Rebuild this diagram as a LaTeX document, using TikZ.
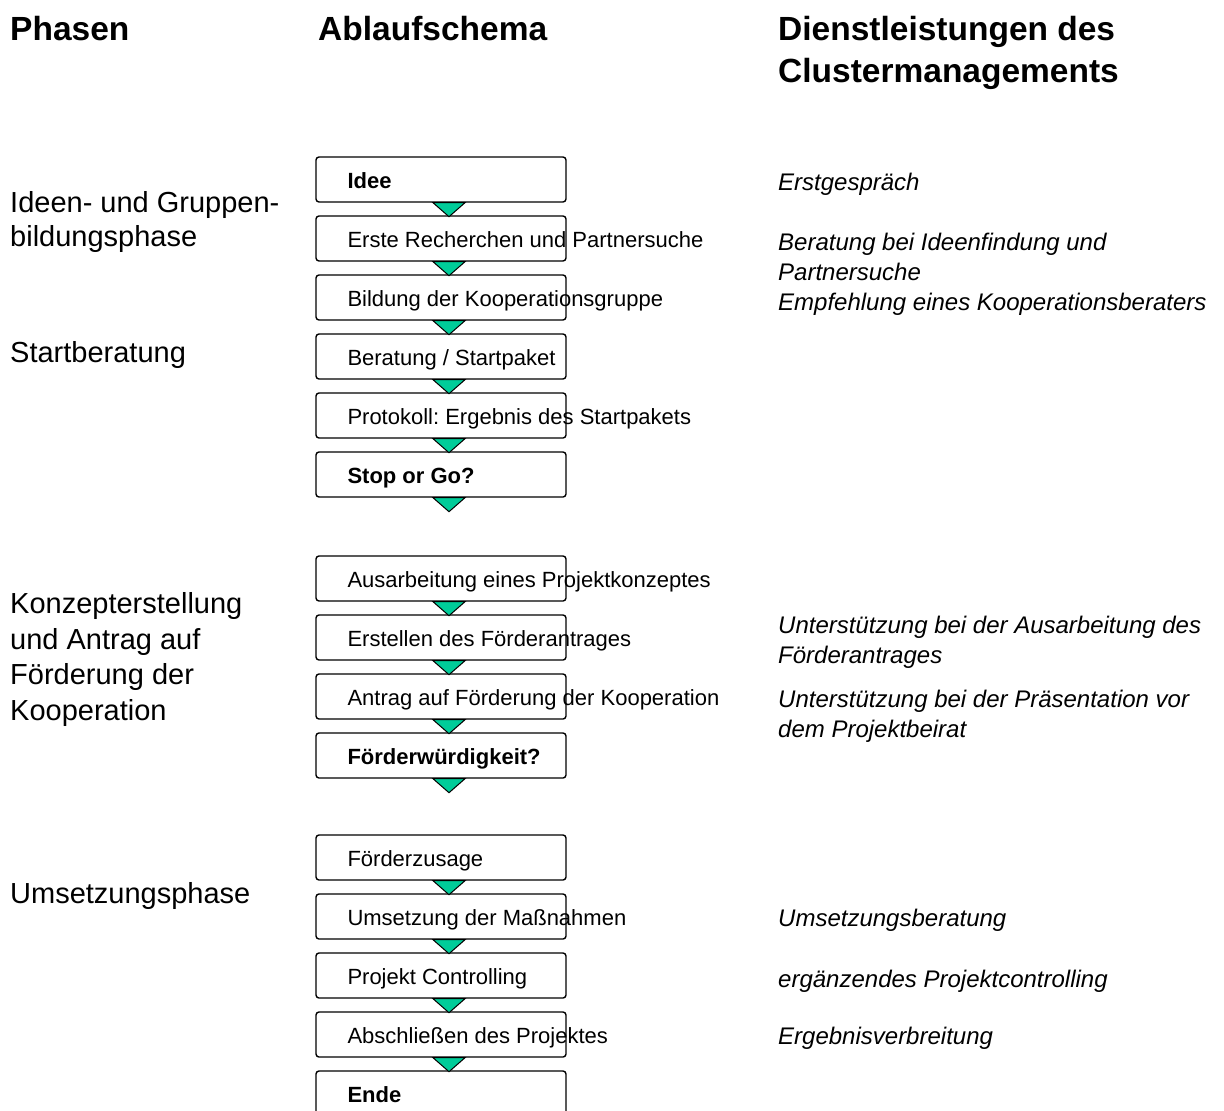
\documentclass[tikz,border=0pt]{standalone}
\usepackage{fontspec}
\setmainfont{Liberation Sans}
\definecolor{trigreen}{RGB}{0,204,153}
\begin{document}
\frenchspacing
\begin{tikzpicture}[x=1pt,y=-1pt,
  box/.style={draw, line width=1.4pt, rounded corners=3pt, minimum width=250pt, minimum height=45pt, inner sep=0pt},
  btext/.style={anchor=base west, inner sep=0pt, font=\fontsize{22}{26}\selectfont},
  head/.style={anchor=base west, inner sep=0pt, font=\fontsize{33.5}{40}\selectfont\bfseries},
  phase/.style={anchor=base west, inner sep=0pt, font=\fontsize{29}{34}\selectfont},
  serv/.style={anchor=base west, inner sep=0pt, font=\fontsize{24}{30}\selectfont\itshape},
  tri/.style={draw, fill=trigreen, line width=1pt, line join=miter}]
\useasboundingbox (0,0) rectangle (1224,1111);

% headings
\node[head] (h1) at (10,40) {Phasen};
\node[head] (h2) at (318,40) {Ablaufschema};
\node[head] (h3) at (778,40) {Dienstleistungen des};
\node[head] (h4) at (778,82) {Clustermanagements};

% phases
\node[phase] (p1a) at (10,212) {Ideen- und Gruppen-};
\node[phase] (p1b) at (10,246) {bildungsphase};
\node[phase] (p2) at (10,362) {Startberatung};
\node[phase] (p3a) at (10,613) {Konzepterstellung};
\node[phase] (p3b) at (10,649) {und Antrag auf};
\node[phase] (p3c) at (10,684) {Förderung der};
\node[phase] (p3d) at (10,720) {Kooperation};
\node[phase] (p4) at (10,903) {Umsetzungsphase};

% boxes
\foreach \n/\y in {b1/179.5, b2/238.5, b3/297.5, b4/356.5, b5/415.5, b6/474.5,
                   b7/578.5, b8/637.5, b9/696.5, b10/755.5,
                   b11/857.5, b12/916.5, b13/975.5, b14/1034.5, b15/1093.5}
  \node[box] (\n) at (441,\y) {};

\foreach \n/\t in {b1/{\textbf{Idee}}, b2/{Erste Recherchen und Partnersuche}, b3/{Bildung der Kooperationsgruppe},
                   b4/{Beratung / Startpaket}, b5/{Protokoll: Ergebnis des Startpakets}, b6/{\textbf{Stop or Go?}},
                   b7/{Ausarbeitung eines Projektkonzeptes}, b8/{Erstellen des Förderantrages},
                   b9/{Antrag auf Förderung der Kooperation}, b10/{\textbf{Förderwürdigkeit?}},
                   b11/{Förderzusage}, b12/{Umsetzung der Maßnahmen}, b13/{Projekt Controlling},
                   b14/{Abschließen des Projektes}, b15/{\textbf{Ende}}}
  \node[btext] (\n t) at ([xshift=32pt,yshift=-9pt]\n.west) {\t};

% triangles
\foreach \n in {b1,b2,b3,b4,b5,b6,b7,b8,b9,b10,b11,b12,b13,b14}
  \draw[tri] ([xshift=-8pt]\n.south) -- ([xshift=24pt]\n.south) -- ([xshift=8pt,yshift=-14pt]\n.south) -- cycle;

% services
\node[serv] (s1) at (778,190) {Erstgespräch};
\node[serv] (s2a) at (778,250) {Beratung bei Ideenfindung und};
\node[serv] (s2b) at (778,280) {Partnersuche};
\node[serv] (s2c) at (778,310) {Empfehlung eines Kooperationsberaters};
\node[serv] (s3a) at (778,633) {Unterstützung bei der Ausarbeitung des};
\node[serv] (s3b) at (778,663) {Förderantrages};
\node[serv] (s4a) at (778,707) {Unterstützung bei der Präsentation vor};
\node[serv] (s4b) at (778,737) {dem Projektbeirat};
\node[serv] (s5) at (778,926) {Umsetzungsberatung};
\node[serv] (s6) at (778,987) {ergänzendes Projektcontrolling};
\node[serv] (s7) at (778,1044) {Ergebnisverbreitung};
\end{tikzpicture}
\end{document}
